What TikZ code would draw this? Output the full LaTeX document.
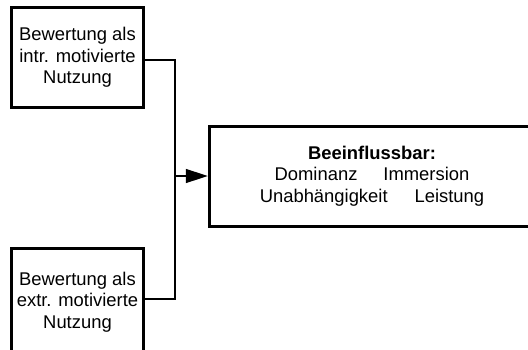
\documentclass[tikz,border=0pt]{standalone}
\usepackage{fontspec}
\setmainfont{Liberation Sans}
\usetikzlibrary{arrows.meta}
\begin{document}
\begin{tikzpicture}[x=1pt,y=-1pt,
  box/.style={draw,line width=3pt,rectangle,inner sep=0pt,align=center,
    font=\fontsize{18.4}{21.5}\selectfont},
  link/.style={line width=1.3pt}]
\useasboundingbox (0,0) rectangle (528,349);
\clip (0,0) rectangle (528,349);
% source boxes
\node[box,minimum width=132pt,minimum height=100pt] (top) at (77.5,57.5)
  {Bewertung als\\intr. motivierte\\Nutzung};
\node[box,minimum width=132pt,minimum height=106pt,text depth=3pt] (bot) at (77.5,301.5)
  {Bewertung als\\extr. motivierte\\Nutzung};
% target box
\node[box,minimum width=325.4pt,minimum height=100pt] (big) at (372,176)
  {\textbf{Beeinflussbar:}\\Dominanz\hspace{26pt}Immersion\\Unabh\"angigkeit\hspace{27pt}Leistung};
% junction of the two connectors
\coordinate (jn) at (175,176);
\draw[link] ([yshift=-2.5pt]top.east) -| (jn);
\draw[link] ([yshift=2.5pt]bot.east) -| (jn);
\draw[link,-{Triangle[length=22pt,width=14pt]}] (jn) -- (big.west);
\end{tikzpicture}
\end{document}
